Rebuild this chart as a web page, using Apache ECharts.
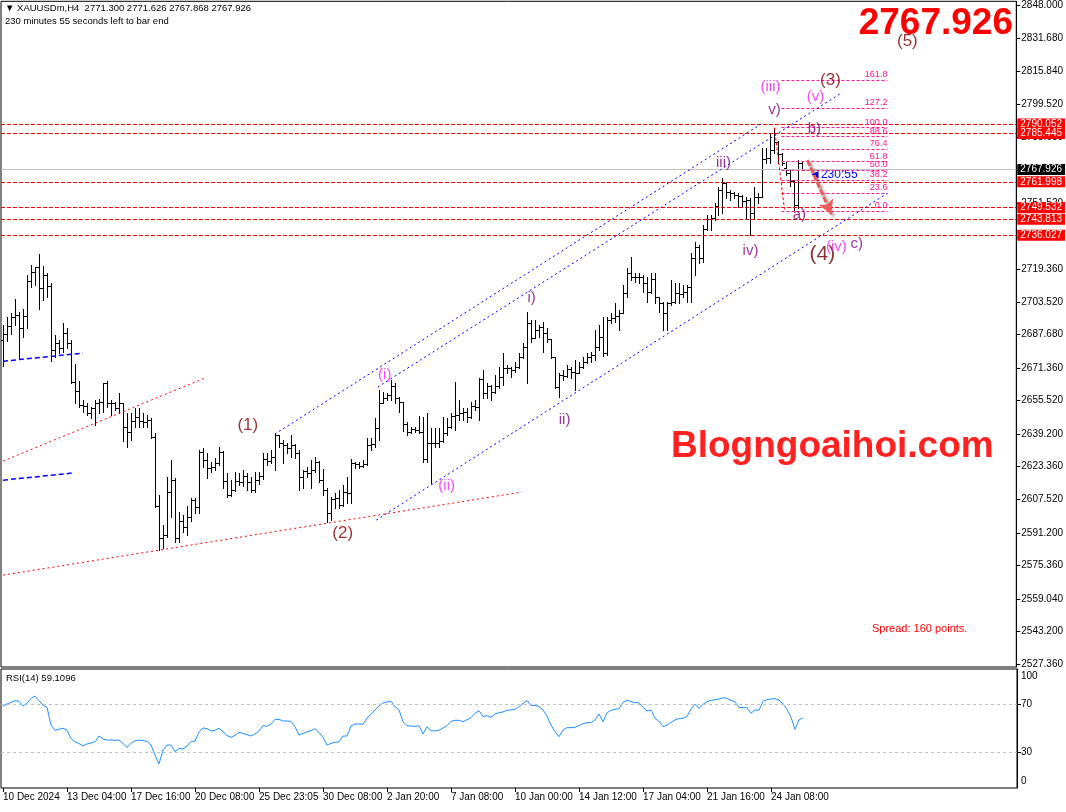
<!DOCTYPE html>
<html><head><meta charset="utf-8">
<script src="https://cdn.jsdelivr.net/npm/echarts@6/dist/echarts.min.js"></script>
<style>html,body{margin:0;padding:0;background:#fff}#c{width:1066px;height:812px}</style>
</head><body><div id="c"></div>
<script>
const FONT = '"Liberation Sans", Arial, sans-serif';

// ---- axis labels ----
const timeLabels = ['10 Dec 2024','13 Dec 04:00','17 Dec 16:00','20 Dec 08:00','25 Dec 23:05','30 Dec 08:00','2 Jan 20:00','7 Jan 08:00','10 Jan 00:00','14 Jan 12:00','17 Jan 04:00','21 Jan 16:00','24 Jan 08:00'];
const timeLabelBars = [0,16,32,48,64,80,96,112,128,144,160,176,192];
const priceTicks = [2848.000,2831.680,2815.840,2799.520,2783.680,2767.360,2751.520,2735.200,2719.360,2703.520,2687.680,2671.360,2655.520,2639.200,2623.360,2607.520,2591.200,2575.360,2559.040,2543.200,2527.360];
const rsiTickValues = [100,70,30,0];

// ---- OHLC bars (H4) ----
const barOpen = [2685.0,2687.7,2691.8,2696.0,2697.0,2691.0,2696.7,2713.7,2718.2,2720.4,2710.5,2716.6,2711.3,2680.1,2683.4,2681.0,2688.2,2683.4,2664.7,2660.2,2653.4,2653.0,2649.3,2651.7,2654.2,2654.8,2663.9,2654.5,2654.2,2651.7,2654.2,2642.5,2640.4,2645.6,2647.7,2645.6,2645.0,2646.0,2638.0,2604.4,2588.5,2590.0,2611.0,2616.9,2588.8,2596.9,2594.2,2599.0,2607.1,2603.9,2630.7,2626.6,2622.5,2623.4,2625.0,2630.7,2616.4,2609.6,2612.0,2616.4,2616.0,2618.8,2616.0,2612.0,2616.9,2618.8,2626.9,2626.0,2628.2,2638.8,2635.0,2634.0,2632.3,2633.9,2629.9,2618.5,2621.2,2620.5,2621.7,2625.8,2616.9,2612.0,2601.0,2607.5,2608.0,2604.7,2611.2,2610.5,2625.0,2624.5,2623.8,2624.5,2633.9,2634.5,2642.1,2654.5,2656.7,2658.3,2662.7,2656.7,2654.7,2644.2,2640.4,2641.5,2641.2,2640.4,2627.0,2634.7,2634.7,2635.0,2636.0,2639.6,2642.9,2648.1,2648.5,2649.3,2649.8,2647.4,2652.9,2652.6,2665.9,2659.0,2662.8,2659.9,2662.8,2667.2,2671.2,2671.5,2670.4,2672.0,2676.9,2681.7,2693.4,2686.1,2689.9,2691.2,2688.2,2685.5,2676.5,2662.3,2668.0,2667.5,2670.7,2669.6,2669.0,2672.0,2674.4,2676.9,2677.5,2681.7,2686.6,2678.8,2694.7,2695.5,2696.7,2698.3,2707.7,2717.4,2715.8,2715.5,2715.8,2712.6,2708.5,2714.5,2706.0,2703.1,2698.0,2703.1,2703.6,2707.7,2707.4,2708.5,2710.9,2724.7,2730.4,2724.7,2738.8,2743.7,2744.2,2750.2,2758.0,2761.2,2757.2,2756.7,2755.5,2755.0,2752.6,2753.1,2746.6,2754.7,2754.4,2772.9,2773.5,2777.4,2781.5,2775.5,2768.5,2766.5,2762.5,2750.5,2771.3];
const barHigh = [2692.3,2696.0,2698.3,2704.8,2698.8,2699.9,2716.6,2721.5,2720.7,2726.8,2721.0,2717.5,2712.6,2687.4,2685.0,2693.1,2691.0,2685.0,2673.2,2665.0,2656.0,2654.2,2652.5,2655.8,2656.1,2664.2,2665.0,2655.8,2655.0,2659.0,2654.5,2649.3,2649.3,2651.7,2651.7,2649.6,2648.5,2646.9,2639.9,2609.6,2595.0,2618.5,2626.6,2618.0,2601.5,2599.8,2604.2,2608.0,2608.0,2631.5,2632.3,2629.9,2625.8,2627.4,2633.1,2630.9,2620.1,2616.9,2620.9,2620.1,2621.7,2620.1,2618.5,2620.9,2620.9,2629.9,2629.9,2631.5,2639.6,2639.0,2636.3,2634.7,2638.8,2634.5,2631.5,2621.7,2623.4,2626.6,2628.2,2626.0,2622.0,2613.0,2608.8,2610.4,2612.0,2614.5,2618.5,2627.0,2625.8,2625.8,2626.6,2637.2,2637.2,2646.9,2660.7,2659.9,2659.1,2665.6,2664.0,2657.5,2655.0,2645.0,2642.9,2642.9,2648.1,2647.7,2649.7,2642.1,2642.1,2642.1,2647.7,2646.9,2649.3,2664.8,2655.8,2651.8,2651.8,2655.0,2655.8,2666.4,2670.4,2663.9,2663.1,2668.0,2672.0,2678.5,2672.8,2672.0,2674.4,2678.5,2683.4,2698.8,2694.7,2694.7,2692.3,2693.9,2690.6,2685.5,2676.5,2668.8,2670.4,2672.8,2672.0,2675.3,2674.4,2676.9,2678.5,2679.3,2689.9,2692.3,2696.3,2696.3,2698.0,2702.8,2699.6,2711.8,2719.9,2725.5,2717.4,2717.4,2716.6,2715.8,2717.4,2717.4,2706.0,2703.5,2703.6,2714.2,2712.6,2712.6,2711.8,2711.8,2727.2,2732.8,2731.0,2740.9,2745.8,2745.8,2751.5,2759.6,2763.7,2762.0,2758.0,2757.2,2756.4,2755.5,2754.7,2753.9,2759.6,2756.4,2778.3,2778.3,2785.6,2788.3,2782.0,2776.0,2771.5,2768.0,2763.0,2772.4,2771.626];
const barLow = [2672.3,2684.6,2687.9,2692.3,2675.6,2686.6,2691.0,2711.0,2712.0,2700.2,2704.5,2706.1,2674.9,2676.9,2678.5,2679.3,2681.0,2664.2,2654.2,2652.5,2650.0,2648.5,2646.9,2643.6,2649.6,2650.1,2652.5,2648.5,2650.9,2649.3,2635.8,2633.1,2636.3,2642.8,2642.8,2642.8,2642.8,2637.1,2603.9,2582.8,2584.0,2589.0,2599.0,2586.9,2586.9,2591.7,2590.1,2597.0,2600.7,2600.7,2623.4,2617.7,2620.9,2621.7,2624.2,2612.8,2608.8,2609.0,2611.5,2614.4,2614.0,2612.0,2611.2,2611.0,2615.0,2617.5,2624.2,2625.0,2621.7,2633.1,2625.0,2629.9,2628.2,2627.4,2612.0,2612.8,2618.5,2612.8,2620.9,2616.0,2609.6,2596.6,2597.4,2603.1,2603.1,2604.0,2605.6,2605.6,2622.6,2622.6,2623.0,2624.0,2631.5,2633.0,2636.4,2654.2,2655.8,2655.8,2654.2,2650.2,2640.9,2638.8,2639.6,2640.0,2639.6,2625.8,2625.8,2615.3,2633.1,2633.1,2635.5,2639.0,2642.1,2641.2,2646.1,2646.1,2645.3,2647.0,2651.0,2646.1,2657.0,2656.6,2655.8,2659.0,2661.5,2663.1,2668.8,2667.2,2669.6,2671.2,2676.1,2664.2,2684.2,2686.0,2686.6,2679.3,2684.2,2676.1,2661.5,2657.4,2665.5,2667.2,2666.3,2660.7,2668.8,2671.2,2674.0,2674.4,2675.3,2680.1,2677.2,2677.7,2693.1,2693.9,2689.9,2698.0,2706.1,2714.2,2713.4,2712.6,2708.5,2703.6,2707.7,2702.8,2698.8,2689.9,2689.9,2702.0,2702.8,2702.8,2706.1,2703.6,2703.6,2716.6,2722.3,2723.1,2738.6,2738.6,2743.4,2745.8,2746.6,2753.9,2753.1,2753.9,2749.5,2749.9,2744.2,2736.0,2744.2,2751.5,2754.4,2771.0,2771.0,2775.8,2771.0,2770.0,2765.5,2760.0,2748.4,2749.3,2767.868];
const barClose = [2687.7,2691.8,2696.0,2697.0,2691.0,2696.7,2713.7,2718.2,2720.4,2710.5,2716.6,2711.3,2680.1,2683.4,2681.0,2688.2,2683.4,2664.7,2660.2,2653.4,2653.0,2649.3,2651.7,2654.2,2654.8,2663.9,2654.5,2654.2,2651.7,2654.2,2642.5,2640.4,2645.6,2647.7,2645.6,2645.0,2646.0,2638.0,2604.4,2588.5,2590.0,2611.0,2616.9,2588.8,2596.9,2594.2,2599.0,2607.1,2603.9,2630.7,2626.6,2622.5,2623.4,2625.0,2630.7,2616.4,2609.6,2612.0,2616.4,2616.0,2618.8,2616.0,2612.0,2616.9,2618.8,2626.9,2626.0,2628.2,2638.8,2635.0,2634.0,2632.3,2633.9,2629.9,2618.5,2621.2,2620.5,2621.7,2625.8,2616.9,2612.0,2601.0,2607.5,2608.0,2604.7,2611.2,2610.5,2625.0,2624.5,2623.8,2624.5,2633.9,2634.5,2642.1,2654.5,2656.7,2658.3,2662.7,2656.7,2654.7,2644.2,2640.4,2641.5,2641.2,2640.4,2627.0,2634.7,2634.7,2635.0,2636.0,2639.6,2642.9,2648.1,2648.5,2649.3,2649.8,2647.4,2652.9,2652.6,2665.9,2659.0,2662.8,2659.9,2662.8,2667.2,2671.2,2671.5,2670.4,2672.0,2676.9,2681.7,2693.4,2686.1,2689.9,2691.2,2688.2,2685.5,2676.5,2662.3,2668.0,2667.5,2670.7,2669.6,2669.0,2672.0,2674.4,2676.9,2677.5,2681.7,2686.6,2678.8,2694.7,2695.5,2696.7,2698.3,2707.7,2717.4,2715.8,2715.5,2715.8,2712.6,2708.5,2714.5,2706.0,2703.1,2698.0,2703.1,2703.6,2707.7,2707.4,2708.5,2710.9,2724.7,2730.4,2724.7,2738.8,2743.7,2744.2,2750.2,2758.0,2761.2,2757.2,2756.7,2755.5,2755.0,2752.6,2753.1,2746.6,2754.7,2754.4,2772.9,2773.5,2777.4,2781.5,2775.5,2771.3,2766.5,2762.5,2750.5,2771.3,2767.926];

// ---- RSI(14) ----
const rsiValues = [68.9,70.6,72.0,73.4,72.8,68.9,71.2,75.3,77.3,73.4,69.5,67.8,52.9,48.5,49.3,50.2,48.7,41.5,38.7,37.3,35.3,37.0,37.8,38.9,43.7,41.2,40.3,40.3,40.1,40.3,37.5,34.2,37.5,39.8,40.3,39.8,39.2,36.1,27.7,20.2,31.9,36.1,36.1,30.5,33.3,32.8,35.3,38.9,39.5,47.3,50.4,49.9,47.9,48.5,50.2,47.3,44.0,42.6,44.2,46.8,45.9,44.8,43.7,45.4,47.9,52.4,51.8,53.8,57.7,57.7,56.3,56.3,56.0,51.5,44.5,45.9,47.1,48.2,49.9,46.5,42.6,36.1,37.5,38.4,38.9,43.7,43.7,52.1,53.8,53.8,53.5,58.8,61.9,65.6,68.9,71.4,72.3,72.8,68.4,65.6,55.7,52.4,52.1,51.8,52.4,45.4,51.5,48.2,47.9,48.5,50.4,52.4,56.0,56.9,56.9,55.7,57.4,59.1,62.8,65.0,60.0,60.8,59.4,62.2,63.3,63.9,65.3,65.6,66.1,68.4,71.2,73.4,69.2,69.5,68.4,65.6,60.5,52.9,47.3,43.1,48.7,50.7,50.7,51.0,52.4,54.1,54.9,54.9,57.2,62.2,55.7,63.3,65.3,66.1,66.7,71.7,73.9,72.6,71.7,71.7,67.8,64.7,65.6,58.6,56.0,51.5,52.9,55.2,57.2,58.3,58.6,60.2,66.4,70.3,67.0,70.3,72.6,73.7,74.2,74.8,75.9,75.3,73.7,72.3,67.8,67.5,67.5,62.8,65.6,65.3,72.8,74.2,74.8,75.1,73.7,70.6,66.1,59.4,49.3,57.2,59.1];
const rsiLevels = [70, 30];

// ---- horizontal levels ----
const levelPrices = [2790.052, 2785.445, 2761.998, 2749.532, 2743.813, 2736.027];
const currentPrice = 2767.926;

// ---- Fibonacci ----
const fibLabels = ['161.8','127.2','100.0','88.6','76.4','61.8','50.0','38.2','23.6','0.0'];
const fibPrices = [2811.5, 2798.0, 2788.3, 2783.9, 2777.8, 2771.8, 2767.6, 2762.7, 2756.5, 2747.8];
const fibBars = [194.75, 221.25];
const fibTrend = [[193, 2788.3], [195.5, 2748.6]];

// ---- trend lines [bar, price] ----
const channelLines = [
  [[68, 2639.2], [190, 2790.5]],
  [[93.75, 2662.1], [210, 2805.5]],
  [[93.4, 2597.4], [221.25, 2756.4]]
];
const blueDashLines = [
  [[0, 2674.7], [20, 2678.6]],
  [[0, 2616.8], [17.5, 2620.3]]
];
const redDotLines = [
  [[0, 2626.1], [50.5, 2666.5]],
  [[0, 2570.6], [129.75, 2611.0]]
];
const arrowLine = [[201.25, 2772.5], [207.25, 2746.2]];

// ---- wave labels ----
const waveText  = ['(1)','(2)','(3)','(4)','(5)','(i)','(ii)','(iii)','(iv)','(v)','i)','ii)','iii)','iv)','v)','a)','b)','c)'];
const waveBar   = [61.25,85,207,205,226.25,95.5,111,192,208.5,203.25,132.25,140.5,180.25,187,193,199.25,203,213.6];
const wavePrice = [2643.6,2591.1,2811.4,2726.8,2830.3,2667.9,2613.9,2808.0,2730.2,2803.1,2705.4,2646.0,2771.0,2728.2,2796.8,2745.7,2787.5,2731.6];
const waveKind  = ['P','P','P','P4','P','M','M','M','M','M','V','V','V','V','V','V','V','V'];
const kindStyle = {P:{color:'#7a0000', size:17}, P4:{color:'#6a0000', size:21}, M:{color:'#ee22ee', size:15}, V:{color:'#800080', size:15}};

const N = 254;

function ohlcItem(i){ return [i, barOpen[i], barHigh[i], barLow[i], barClose[i]]; }

function renderBar(params, api){
  const i = api.value(0);
  const pH = api.coord([i, api.value(2)]);
  const pL = api.coord([i, api.value(3)]);
  const yO = Math.round(api.coord([i, api.value(1)])[1]) + 0.5;
  const yC = Math.round(api.coord([i, api.value(4)])[1]) + 0.5;
  const x = Math.round(pH[0]) + 0.5;
  const st = {stroke:'#000', lineWidth:1};
  return {type:'group', children:[
    {type:'line', shape:{x1:x, y1:Math.round(pH[1]), x2:x, y2:Math.round(pL[1]) + 1}, style:st},
    {type:'line', shape:{x1:x-2.5, y1:yO, x2:x-0.5, y2:yO}, style:st},
    {type:'line', shape:{x1:x+0.5, y1:yC, x2:x+2.5, y2:yC}, style:st}
  ]};
}

function pairLines(list, style){
  return list.map(l => [{coord:l[0], lineStyle:style}, {coord:l[1]}]);
}

const chart = echarts.init(document.getElementById('c'), null, {renderer:'canvas'});

const levelMarks = levelPrices.map(v => ({
  yAxis: v,
  lineStyle:{color:'#ff0000', type:[4,2], width:1},
  label:{show:true, position:'end', distance:1, formatter:v.toFixed(3), color:'#fff', backgroundColor:'#ff0000', padding:[1,3,0,3], fontSize:10, fontFamily:FONT}
}));
levelMarks.unshift({
  yAxis: currentPrice,
  lineStyle:{color:'#c0c0c0', type:'solid', width:1},
  label:{show:true, position:'end', distance:1, formatter:currentPrice.toFixed(3), color:'#fff', backgroundColor:'#000', padding:[1,3,0,3], fontSize:10, fontFamily:FONT}
});

const fibMarks = fibPrices.map((p, k) => [
  {coord:[fibBars[0], p], lineStyle:{color:'#ff1493', type:[3,2], width:1},
   label:{show:true, position:'insideEndTop', distance:[0,1], formatter:fibLabels[k], color:'#ff1493', fontSize:9, fontFamily:FONT}},
  {coord:[fibBars[1], p]}
]);

const trendMarks = []
  .concat(pairLines(channelLines, {color:'#0000ff', type:[2,3], width:1}))
  .concat(pairLines(blueDashLines, {color:'#0000ff', type:[5,3], width:1.5}))
  .concat(pairLines(redDotLines, {color:'#ff0000', type:[2,3], width:1}))
  .concat([[{coord:fibTrend[0], lineStyle:{color:'#ff0000', type:[3,2], width:1}}, {coord:fibTrend[1]}]])
  .concat([[{coord:arrowLine[0], symbol:'none', lineStyle:{color:'#f05a5a', type:[6,2], width:3, shadowColor:'rgba(0,0,0,0.45)', shadowBlur:3, shadowOffsetX:2, shadowOffsetY:2}},
            {coord:arrowLine[1], symbol:'arrow', symbolSize:[12,14]}]]);

const waveData = waveText.map((t, k) => ({
  value:[waveBar[k], wavePrice[k]],
  label:{show:true, position:'inside', formatter:t, color:kindStyle[waveKind[k]].color, fontSize:kindStyle[waveKind[k]].size, fontFamily:FONT}
}));

const option = {
  animation:false,
  backgroundColor:'#fff',
  grid:[
    {left:1, top:1, width:1016, height:666, show:true, borderColor:'#000', borderWidth:1, backgroundColor:'transparent'},
    {left:1, top:669, width:1016, height:119, show:true, borderColor:'#000', borderWidth:1, backgroundColor:'transparent'}
  ],
  xAxis:[
    {gridIndex:0, type:'value', min:-0.5, max:N-0.5, show:false},
    {gridIndex:1, type:'value', min:-0.5, max:N-0.5,
      axisLine:{show:false, onZero:false}, splitLine:{show:false},
      axisTick:{show:true, customValues:timeLabelBars, length:4, lineStyle:{color:'#000'}},
      axisLabel:{show:true, customValues:timeLabelBars, align:'left', margin:4, color:'#000', fontSize:10, fontFamily:FONT,
        formatter:(v)=>{ const k = timeLabelBars.indexOf(Math.round(v)); return k >= 0 ? timeLabels[k] : ''; }}}
  ],
  yAxis:[
    {gridIndex:0, type:'value', position:'right', min:2525.9, max:2849.8, scale:true,
      axisLine:{show:true, onZero:false, lineStyle:{color:'#000'}}, splitLine:{show:false},
      axisTick:{show:true, customValues:priceTicks, length:4, lineStyle:{color:'#000'}},
      axisLabel:{show:true, customValues:priceTicks, margin:5, color:'#000', fontSize:10, fontFamily:FONT, formatter:(v)=>v.toFixed(3)}},
    {gridIndex:1, type:'value', position:'right', min:0, max:100,
      axisLine:{show:true, onZero:false, lineStyle:{color:'#000'}}, splitLine:{show:false},
      axisTick:{show:true, customValues:[70,30], length:4, lineStyle:{color:'#000'}},
      axisLabel:{show:true, customValues:[93.5,70,30,6], margin:4, color:'#000', fontSize:10, fontFamily:FONT,
        formatter:(v)=> v > 90 ? String(rsiTickValues[0]) : (v < 10 ? String(rsiTickValues[3]) : String(Math.round(v)))}}
  ],
  series:[
    {type:'line', xAxisIndex:0, yAxisIndex:0, data:[], silent:true, z:1,
      markLine:{silent:true, animation:false, symbol:['none','none'], data:levelMarks}},
    {type:'line', xAxisIndex:0, yAxisIndex:0, data:[], silent:true, z:3,
      markLine:{silent:true, animation:false, symbol:['none','none'], data:fibMarks}},
    {type:'line', xAxisIndex:0, yAxisIndex:0, data:[], silent:true, z:3,
      markLine:{silent:true, animation:false, symbol:['none','none'], label:{show:false}, data:trendMarks}},
    {type:'custom', xAxisIndex:0, yAxisIndex:0, silent:true, z:4,
      data: barOpen.map((_, i) => ohlcItem(i)), renderItem:renderBar, encode:{x:0, y:[1,2,3,4]}},
    {type:'scatter', xAxisIndex:0, yAxisIndex:0, silent:true, z:5, symbolSize:1, itemStyle:{color:'transparent'},
      data: waveData},
    {type:'line', xAxisIndex:1, yAxisIndex:1, silent:true, symbol:'none',
      data: rsiValues.map((v, i) => [i, v]), lineStyle:{color:'#1e90ff', width:1},
      markLine:{silent:true, symbol:['none','none'], label:{show:false},
        data: rsiLevels.map(v => ({yAxis:v, lineStyle:{color:'#c0c0c0', type:[3,3], width:1}}))}}
  ],
  graphic:[
    {type:'text', left:5, top:3, style:{text:'\u25BC XAUUSDm,H4  2771.300 2771.626 2767.868 2767.926', font:'9.5px ' + FONT, fill:'#000'}},
    {type:'text', left:5, top:16, style:{text:'230 minutes 55 seconds left to bar end', font:'9.5px ' + FONT, fill:'#000'}},
    {type:'text', left:6, top:673, style:{text:'RSI(14) 59.1096', font:'9.5px ' + FONT, fill:'#000'}},
    {type:'text', right:53, top:5, style:{text:'2767.926', font:'bold 37px ' + FONT, fill:'#ff0000'}},
    {type:'text', left:809, top:169, style:{text:'\u25C4230:55', font:'12px ' + FONT, fill:'#0000ff'}},
    {type:'text', left:872, top:623, style:{text:'Spread: 160 points.', font:'11px ' + FONT, fill:'#ff0000'}},
    {type:'text', left:671, top:428, style:{text:'Blogngoaihoi.com', font:'bold 37px ' + FONT, fill:'#ff2020', shadowColor:'rgba(0,0,0,0.5)', shadowBlur:3, shadowOffsetX:2, shadowOffsetY:2}}
  ]
};
chart.setOption(option);
</script>
</body></html>
